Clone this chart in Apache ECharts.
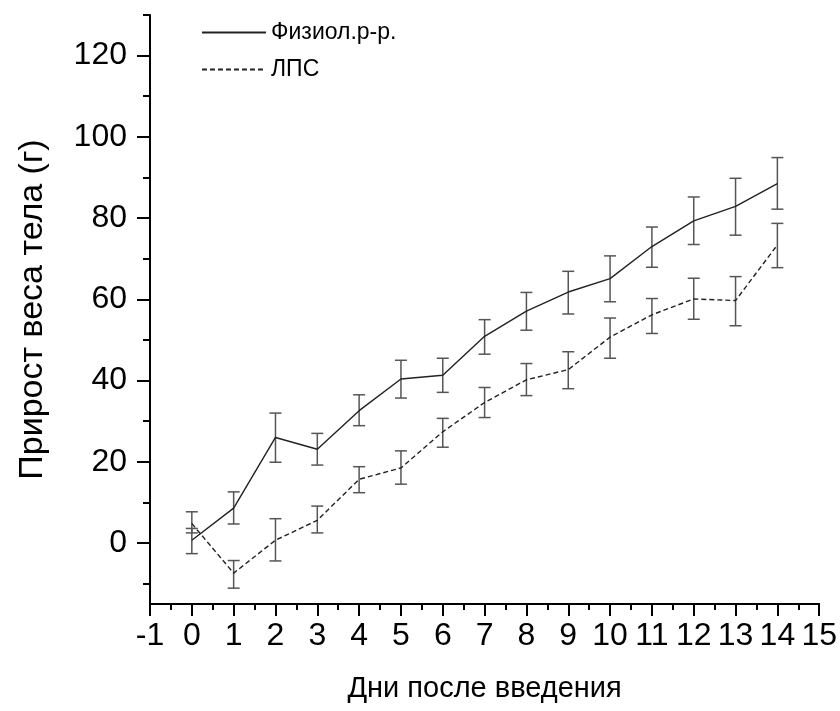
<!DOCTYPE html>
<html>
<head>
<meta charset="utf-8">
<script src="https://cdn.jsdelivr.net/npm/echarts@6/dist/echarts.min.js"></script>
<style>
  html, body { margin: 0; padding: 0; background: #fff; }
  #main { width: 840px; height: 711px; }
</style>
</head>
<body>
<div id="main"></div>
<script>
var myChart = echarts.init(document.getElementById('main'));

// дни
var days = [0, 1, 2, 3, 4, 5, 6, 7, 8, 9, 10, 11, 12, 13, 14];

// Физиол.р-р.
var salineMean = [0.7, 8.6, 26.0, 23.1, 32.6, 40.4, 41.3, 50.9, 57.1, 61.8, 65.1, 73.0, 79.3, 82.9, 88.5];
var salineLow  = [-2.6, 4.7, 19.9, 19.2, 28.9, 35.7, 37.1, 46.5, 52.4, 56.4, 59.4, 67.9, 73.5, 75.8, 82.2];
var salineHigh = [7.7, 12.6, 32.0, 27.0, 36.5, 45.0, 45.5, 55.0, 61.7, 66.9, 70.7, 77.8, 85.2, 89.8, 94.9];

// ЛПС
var lpsMean = [4.8, -7.4, 0.7, 5.6, 15.7, 18.5, 27.4, 34.6, 40.2, 42.7, 50.7, 56.2, 60.1, 59.7, 73.4];
var lpsLow  = [2.5, -11.1, -4.4, 2.5, 12.4, 14.5, 23.6, 30.9, 36.3, 38.0, 45.5, 51.6, 55.1, 53.5, 67.8];
var lpsHigh = [3.6, -4.3, 6.0, 9.1, 18.8, 22.7, 30.7, 38.3, 44.2, 47.1, 55.4, 60.2, 65.2, 65.6, 78.7];

// тики оси Y
var yMajorTicks = [0, 20, 40, 60, 80, 100, 120];
var yMinorTicks = [-10, 10, 30, 50, 70, 90, 110, 130];

var font = '"Liberation Sans", Arial, sans-serif';

function pairs(xs, ys) {
    return xs.map(function (x, i) { return [x, ys[i]]; });
}
function bars(xs, lo, hi) {
    return xs.map(function (x, i) { return [x, lo[i], hi[i]]; });
}

// усы погрешности
function renderErr(params, api) {
    var x = api.value(0);
    var p1 = api.coord([x, api.value(1)]);
    var p2 = api.coord([x, api.value(2)]);
    var hw = 6;
    var st = { stroke: '#555', lineWidth: 1.5 };
    return {
        type: 'group',
        children: [
            { type: 'line', shape: { x1: p1[0], y1: p1[1], x2: p2[0], y2: p2[1] }, style: st },
            { type: 'line', shape: { x1: p1[0] - hw, y1: p1[1], x2: p1[0] + hw, y2: p1[1] }, style: st },
            { type: 'line', shape: { x1: p2[0] - hw, y1: p2[1], x2: p2[0] + hw, y2: p2[1] }, style: st }
        ]
    };
}

var option = {
    animation: false,
    textStyle: { fontFamily: font, color: '#000' },
    legend: {
        orient: 'vertical',
        left: 196,
        top: 16,
        itemWidth: 64,
        itemHeight: 14,
        itemGap: 14,
        itemStyle: { opacity: 0 },
        textStyle: { fontSize: 23, color: '#000', fontFamily: font },
        data: ['Физиол.р-р.', 'ЛПС']
    },
    grid: { left: 150, right: 20, top: 15, bottom: 107 },
    xAxis: {
        type: 'value',
        min: -1,
        max: 15,
        interval: 1,
        name: 'Дни после введения',
        nameLocation: 'middle',
        nameGap: 70,
        nameTextStyle: { fontSize: 29, color: '#000', fontFamily: font },
        axisLine: { onZero: false, lineStyle: { color: '#000', width: 2 } },
        axisTick: { length: 12, lineStyle: { color: '#000', width: 2 } },
        minorTick: { show: true, splitNumber: 2, length: 6, lineStyle: { color: '#000', width: 2 } },
        axisLabel: { fontSize: 32, color: '#000', margin: 16, fontFamily: font },
        splitLine: { show: false }
    },
    yAxis: [
        {
            type: 'value',
            min: -15,
            max: 130,
            name: 'Прирост веса тела (г)',
            nameLocation: 'middle',
            nameGap: 100,
            nameTextStyle: { fontSize: 34, color: '#000', fontFamily: font },
            axisLine: { show: true, onZero: false, lineStyle: { color: '#000', width: 2 } },
            axisTick: { show: true, length: 13, customValues: yMajorTicks, lineStyle: { color: '#000', width: 2 } },
            axisLabel: { fontSize: 32, color: '#000', margin: 23, customValues: yMajorTicks, fontFamily: font },
            splitLine: { show: false }
        },
        {
            type: 'value',
            min: -15,
            max: 130,
            position: 'left',
            axisLine: { show: false, onZero: false },
            axisTick: { show: true, length: 7, customValues: yMinorTicks, lineStyle: { color: '#000', width: 2 } },
            axisLabel: { show: false },
            splitLine: { show: false }
        }
    ],
    series: [
        {
            name: 'Физиол.р-р.',
            type: 'line',
            symbol: 'none',
            color: '#222',
            lineStyle: { color: '#222', width: 1.4, type: 'solid' },
            data: pairs(days, salineMean),
            z: 3
        },
        {
            name: 'ЛПС',
            type: 'line',
            symbol: 'none',
            color: '#222',
            lineStyle: { color: '#222', width: 1.4, type: [5, 3] },
            data: pairs(days, lpsMean),
            z: 3
        },
        {
            type: 'custom',
            renderItem: renderErr,
            data: bars(days, salineLow, salineHigh),
            encode: { x: 0, y: [1, 2] },
            z: 2
        },
        {
            type: 'custom',
            renderItem: renderErr,
            data: bars(days, lpsLow, lpsHigh),
            encode: { x: 0, y: [1, 2] },
            z: 2
        }
    ]
};

myChart.setOption(option);
</script>
</body>
</html>
